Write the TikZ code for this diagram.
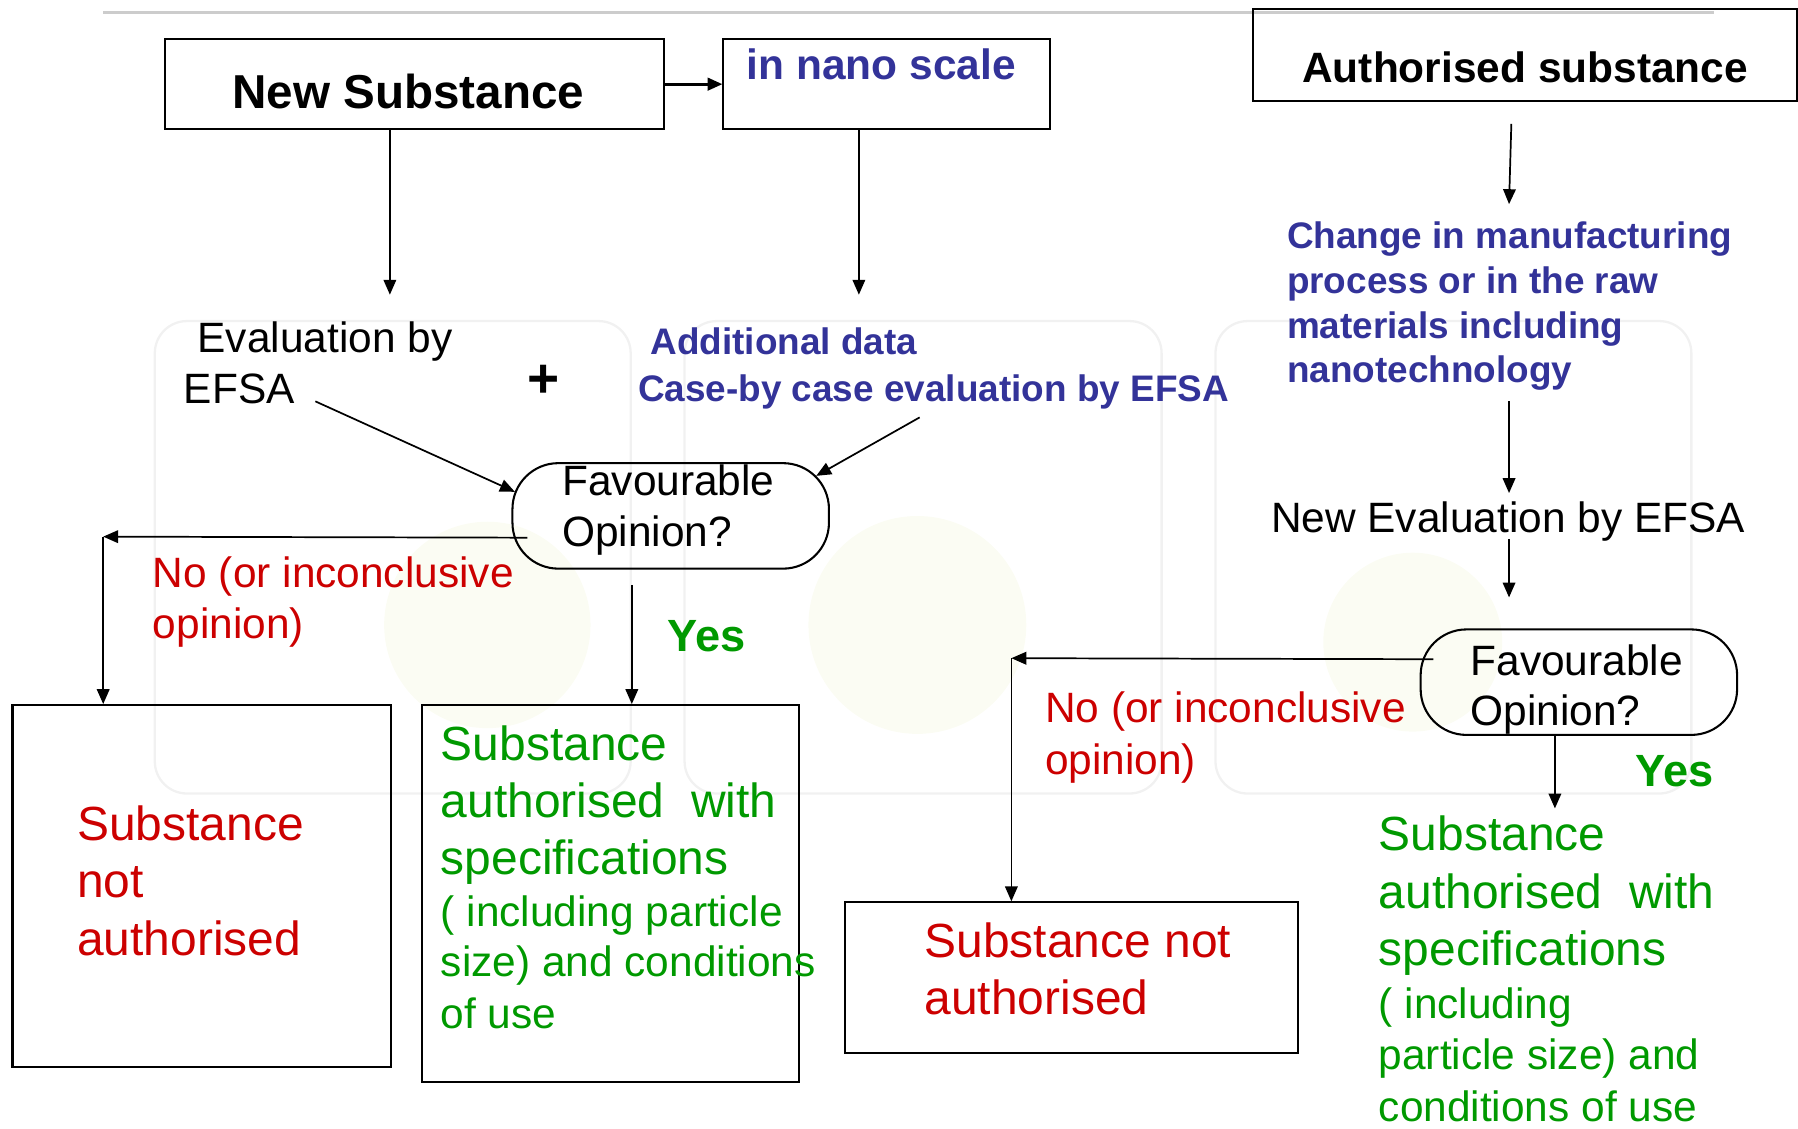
\documentclass[tikz,border=0pt]{standalone}
\usepackage{fontspec}
\setmainfont{Liberation Sans}
\usetikzlibrary{arrows.meta,calc}
\definecolor{eblue}{HTML}{333399}
\definecolor{ered}{HTML}{CC0000}
\definecolor{egreen}{HTML}{009900}
\definecolor{lgrey}{HTML}{CCCCCC}
\definecolor{wmgrey}{HTML}{F1F1F1}
\definecolor{wmgreen}{HTML}{FBFCF3}
\begin{document}
\begin{tikzpicture}[x=0.5pt,y=-0.5pt,
  box/.style={draw, line width=0.9pt, inner sep=0pt, anchor=north west},
  opinion/.style={box, rounded corners=20pt, minimum width=138pt, minimum height=46pt},
  arr/.style={-{Triangle[length=6.5pt,width=5.5pt]}, line width=0.75pt},
  txt/.style={anchor=base west, inner sep=0pt},
  fNS/.style={font=\fontsize{20.75}{24}\selectfont\bfseries},
  fHead/.style={font=\fontsize{18.5}{22}\selectfont\bfseries},
  fBlue/.style={font=\fontsize{16.1}{19}\selectfont\bfseries, text=eblue},
  fReg/.style={font=\fontsize{18.5}{22}\selectfont},
  fYes/.style={font=\fontsize{19.7}{23}\selectfont\bfseries, text=egreen},
  fOut/.style={font=\fontsize{20.9}{25}\selectfont},
  wm/.style={draw=wmgrey, line width=1pt, rounded corners=14pt}
]
\useasboundingbox (0,0) rectangle (1568,984);

% faint watermark
\fill[wmgreen] (425,545) circle (90);
\fill[wmgreen] (800,545) circle (95);
\fill[wmgreen] (1232,560) circle (78);
\draw[wm] (135,280) rectangle (550,692);
\draw[wm] (597,280) rectangle (1013,692);
\draw[wm] (1060,280) rectangle (1475,692);

% top rule
\draw[lgrey, line width=1.5pt] (90,11) -- (1495,11);

% boxes
\node[box, minimum width=217.5pt, minimum height=39.5pt] (ns) at (143,33) {};
\node[box, minimum width=142.5pt, minimum height=39.5pt] (nano) at (630,33) {};
\node[box, minimum width=237pt, minimum height=40pt] (auth) at (1092,7) {};
\node[opinion] (fav1) at (446,403) {};
\node[opinion] (fav2) at (1238,548) {};
\node[box, minimum width=165pt, minimum height=158pt] (notL) at (10,614) {};
\node[box, minimum width=164.5pt, minimum height=164.5pt] (okL) at (367,614) {};
\node[box, minimum width=197.5pt, minimum height=65.5pt] (notR) at (736,786) {};

% texts
\node[fNS, anchor=base, inner sep=0pt] (tNS) at (356,95) {New Substance};
\node[txt, fHead, text=eblue] (tNano) at (651,69) {in nano scale};
\node[fHead, anchor=base, inner sep=0pt] (tAuth) at (1330,72) {Authorised substance};

\node[txt, fReg] (tEv1) at (172,307) {Evaluation by};
\node[txt, fReg] (tEv2) at (160,352) {EFSA};
\node[font=\fontsize{24}{28}\selectfont\bfseries, inner sep=0pt] (plus) at (474,333) {+};
\node[txt, fBlue] (tAdd1) at (567,309) {Additional data};
\node[txt, fBlue] (tAdd2) at (556,350) {Case-by case evaluation by EFSA};

\node[txt, fReg] (tF1a) at (490,432) {Favourable};
\node[txt, fReg] (tF1b) at (490,477) {Opinion?};
\node[txt, fReg, text=ered] (tNo1a) at (133,512) {No (or inconclusive};
\node[txt, fReg, text=ered] (tNo1b) at (133,557) {opinion)};
\node[txt, fYes] (tYes1) at (582,568) {Yes};

\node[txt, fOut, text=ered] (tNL1) at (67,733) {Substance};
\node[txt, fOut, text=ered] (tNL2) at (67,783) {not};
\node[txt, fOut, text=ered] (tNL3) at (67,833) {authorised};

\node[txt, fOut, text=egreen] (tOK1) at (384,663) {Substance};
\node[txt, fOut, text=egreen] (tOK2) at (384,713) {authorised\ \ with};
\node[txt, fOut, text=egreen] (tOK3) at (384,763) {specifications};
\node[txt, fReg, text=egreen] (tOK4) at (384,808) {( including particle};
\node[txt, fReg, text=egreen] (tOK5) at (384,852) {size) and conditions};
\node[txt, fReg, text=egreen] (tOK6) at (384,897) {of use};

\node[txt, fBlue] (tCh1) at (1122,217) {Change in manufacturing};
\node[txt, fBlue] (tCh2) at (1122,256) {process or in the raw};
\node[txt, fBlue] (tCh3) at (1122,295) {materials including};
\node[txt, fBlue] (tCh4) at (1122,334) {nanotechnology};

\node[txt, fReg] (tNewEv) at (1108,464) {New Evaluation by EFSA};
\node[txt, fReg] (tF2a) at (1282,589) {Favourable};
\node[txt, fReg] (tF2b) at (1282,633) {Opinion?};
\node[txt, fReg, text=ered] (tNo2a) at (911,630) {No (or inconclusive};
\node[txt, fReg, text=ered] (tNo2b) at (911,675) {opinion)};
\node[txt, fYes] (tYes2) at (1426,686) {Yes};

\node[txt, fOut, text=ered] (tNR1) at (806,835) {Substance not};
\node[txt, fOut, text=ered] (tNR2) at (806,885) {authorised};

\node[txt, fOut, text=egreen] (tR1) at (1202,742) {Substance};
\node[txt, fOut, text=egreen] (tR2) at (1202,792) {authorised\ \ with};
\node[txt, fOut, text=egreen] (tR3) at (1202,842) {specifications};
\node[txt, fReg, text=egreen] (tR4) at (1202,888) {( including};
\node[txt, fReg, text=egreen] (tR5) at (1202,933) {particle size) and};
\node[txt, fReg, text=egreen] (tR6) at (1202,978) {conditions of use};

% connectors
\draw[arr, line width=1.2pt] (ns.east) -- (nano.west);
\coordinate (evalTop) at (340,257);
\draw[arr] (ns.south -| evalTop) -- (evalTop);
\coordinate (addTop) at (749,257);
\draw[arr] (nano.south -| addTop) -- (addTop);
\coordinate (efsaOut) at (275,350);
\draw[arr] (efsaOut) -- ($(fav1.west)+(3,-21)$);
\coordinate (caseOut) at (802,364);
\draw[arr] (caseOut) -- ($(fav1.north east)+(-12,12)$);
\coordinate (noL) at (90,468);
\draw[arr] ($(fav1.west)+(14,19)$) -- (noL);
\draw[arr] (noL) -- (noL |- notL.north);
\coordinate (yesL) at (551,510);
\draw[arr] (yesL) -- (yesL |- okL.north);

\coordinate (r1) at (1318,108);
\coordinate (r2) at (1316,178);
\draw[arr] (r1) -- (r2);
\coordinate (r3) at (1316,350);
\coordinate (r4) at (1316,430);
\draw[arr] (r3) -- (r4);
\coordinate (r5) at (1316,470);
\coordinate (r6) at (1316,521);
\draw[arr] (r5) -- (r6);
\coordinate (noR) at (882,574);
\draw[arr] ($(fav2.west)+(12,-20)$) -- (noR);
\draw[arr] (noR) -- (noR |- notR.north);
\coordinate (yesR) at (1356,705);
\draw[arr] (fav2.south -| yesR) -- (yesR);
\end{tikzpicture}
\end{document}
